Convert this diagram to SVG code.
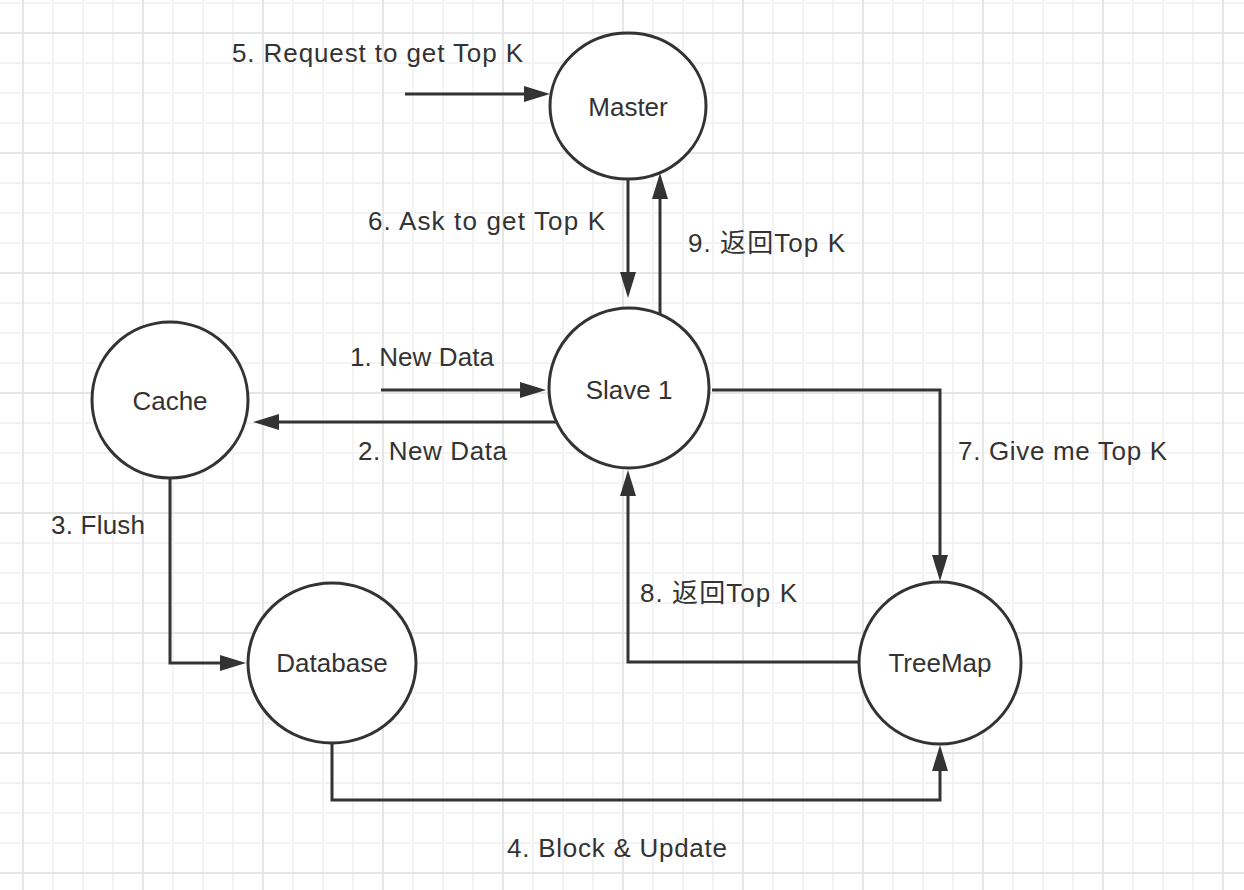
<svg xmlns="http://www.w3.org/2000/svg" width="1244" height="890" viewBox="0 0 1244 890">
<style>
.node{fill:#fff;stroke:#333;stroke-width:3}
.lbl{font-family:"Liberation Sans","Noto Sans CJK SC",sans-serif;font-size:26px;fill:#333}
.mid{text-anchor:middle}
.edge{fill:none;stroke:#333;stroke-width:3}
</style>
<defs>
<pattern id="grid" patternUnits="userSpaceOnUse" x="22" y="32" width="120" height="120">
<rect x="0" y="0" width="120" height="120" fill="#fff"/>
<g fill="#f3f3f3">
<rect x="30" y="0" width="2" height="120"/>
<rect x="60" y="0" width="2" height="120"/>
<rect x="90" y="0" width="2" height="120"/>
<rect x="0" y="30" width="120" height="2"/>
<rect x="0" y="60" width="120" height="2"/>
<rect x="0" y="90" width="120" height="2"/>
</g>
<g fill="#e6e6e6">
<rect x="0" y="0" width="2" height="120"/>
<rect x="0" y="0" width="120" height="2"/>
</g>
</pattern>
<marker id="arr" markerUnits="userSpaceOnUse" markerWidth="26" markerHeight="16" refX="16" refY="8" orient="auto">
<path d="M0,0 L26,8 L0,16 Z" fill="#333"/>
</marker>
</defs>
<rect x="0" y="0" width="1244" height="890" fill="url(#grid)"/>
<g id="connectors">
<path class="edge" d="M405,94 L540,94" marker-end="url(#arr)"/>
<path class="edge" d="M628,179 L628,288" marker-end="url(#arr)"/>
<path class="edge" d="M660,318 L660,183" marker-end="url(#arr)"/>
<path class="edge" d="M381,390 L536,390" marker-end="url(#arr)"/>
<path class="edge" d="M556,422 L263,422" marker-end="url(#arr)"/>
<path class="edge" d="M712,390 L940,390 L940,571" marker-end="url(#arr)"/>
<path class="edge" d="M858,662 L628,662 L628,480" marker-end="url(#arr)"/>
<path class="edge" d="M170,478 L170,663 L236,663" marker-end="url(#arr)"/>
<path class="edge" d="M332,743 L332,800 L940,800 L940,755" marker-end="url(#arr)"/>
<text class="lbl" x="232" y="62" textLength="291" lengthAdjust="spacing">5. Request to get Top K</text>
<text class="lbl" x="368" y="230" textLength="237" lengthAdjust="spacing">6. Ask to get Top K</text>
<text class="lbl" x="688" y="252" textLength="157" lengthAdjust="spacing">9. 返回Top K</text>
<text class="lbl" x="350" y="366" textLength="144" lengthAdjust="spacing">1. New Data</text>
<text class="lbl" x="358" y="460" textLength="149" lengthAdjust="spacing">2. New Data</text>
<text class="lbl" x="958" y="460" textLength="209" lengthAdjust="spacing">7. Give me Top K</text>
<text class="lbl" x="51" y="534" textLength="94" lengthAdjust="spacing">3. Flush</text>
<text class="lbl" x="640" y="602" textLength="157" lengthAdjust="spacing">8. 返回Top K</text>
<text class="lbl" x="507" y="857" textLength="220" lengthAdjust="spacing">4. Block &amp; Update</text>
</g>
<g id="master">
<ellipse class="node" cx="628" cy="106" rx="78" ry="73"/>
<text class="lbl mid" x="628" y="116">Master</text>
</g>
<g id="slave1">
<circle class="node" cx="629" cy="388" r="80"/>
<text class="lbl mid" x="629" y="399">Slave 1</text>
</g>
<g id="cache">
<circle class="node" cx="170" cy="400" r="78"/>
<text class="lbl mid" x="170" y="410">Cache</text>
</g>
<g id="database">
<ellipse class="node" cx="332" cy="663" rx="84" ry="80"/>
<text class="lbl mid" x="332" y="672">Database</text>
</g>
<g id="treemap">
<circle class="node" cx="940" cy="663" r="81"/>
<text class="lbl mid" x="940" y="672">TreeMap</text>
</g>
</svg>
